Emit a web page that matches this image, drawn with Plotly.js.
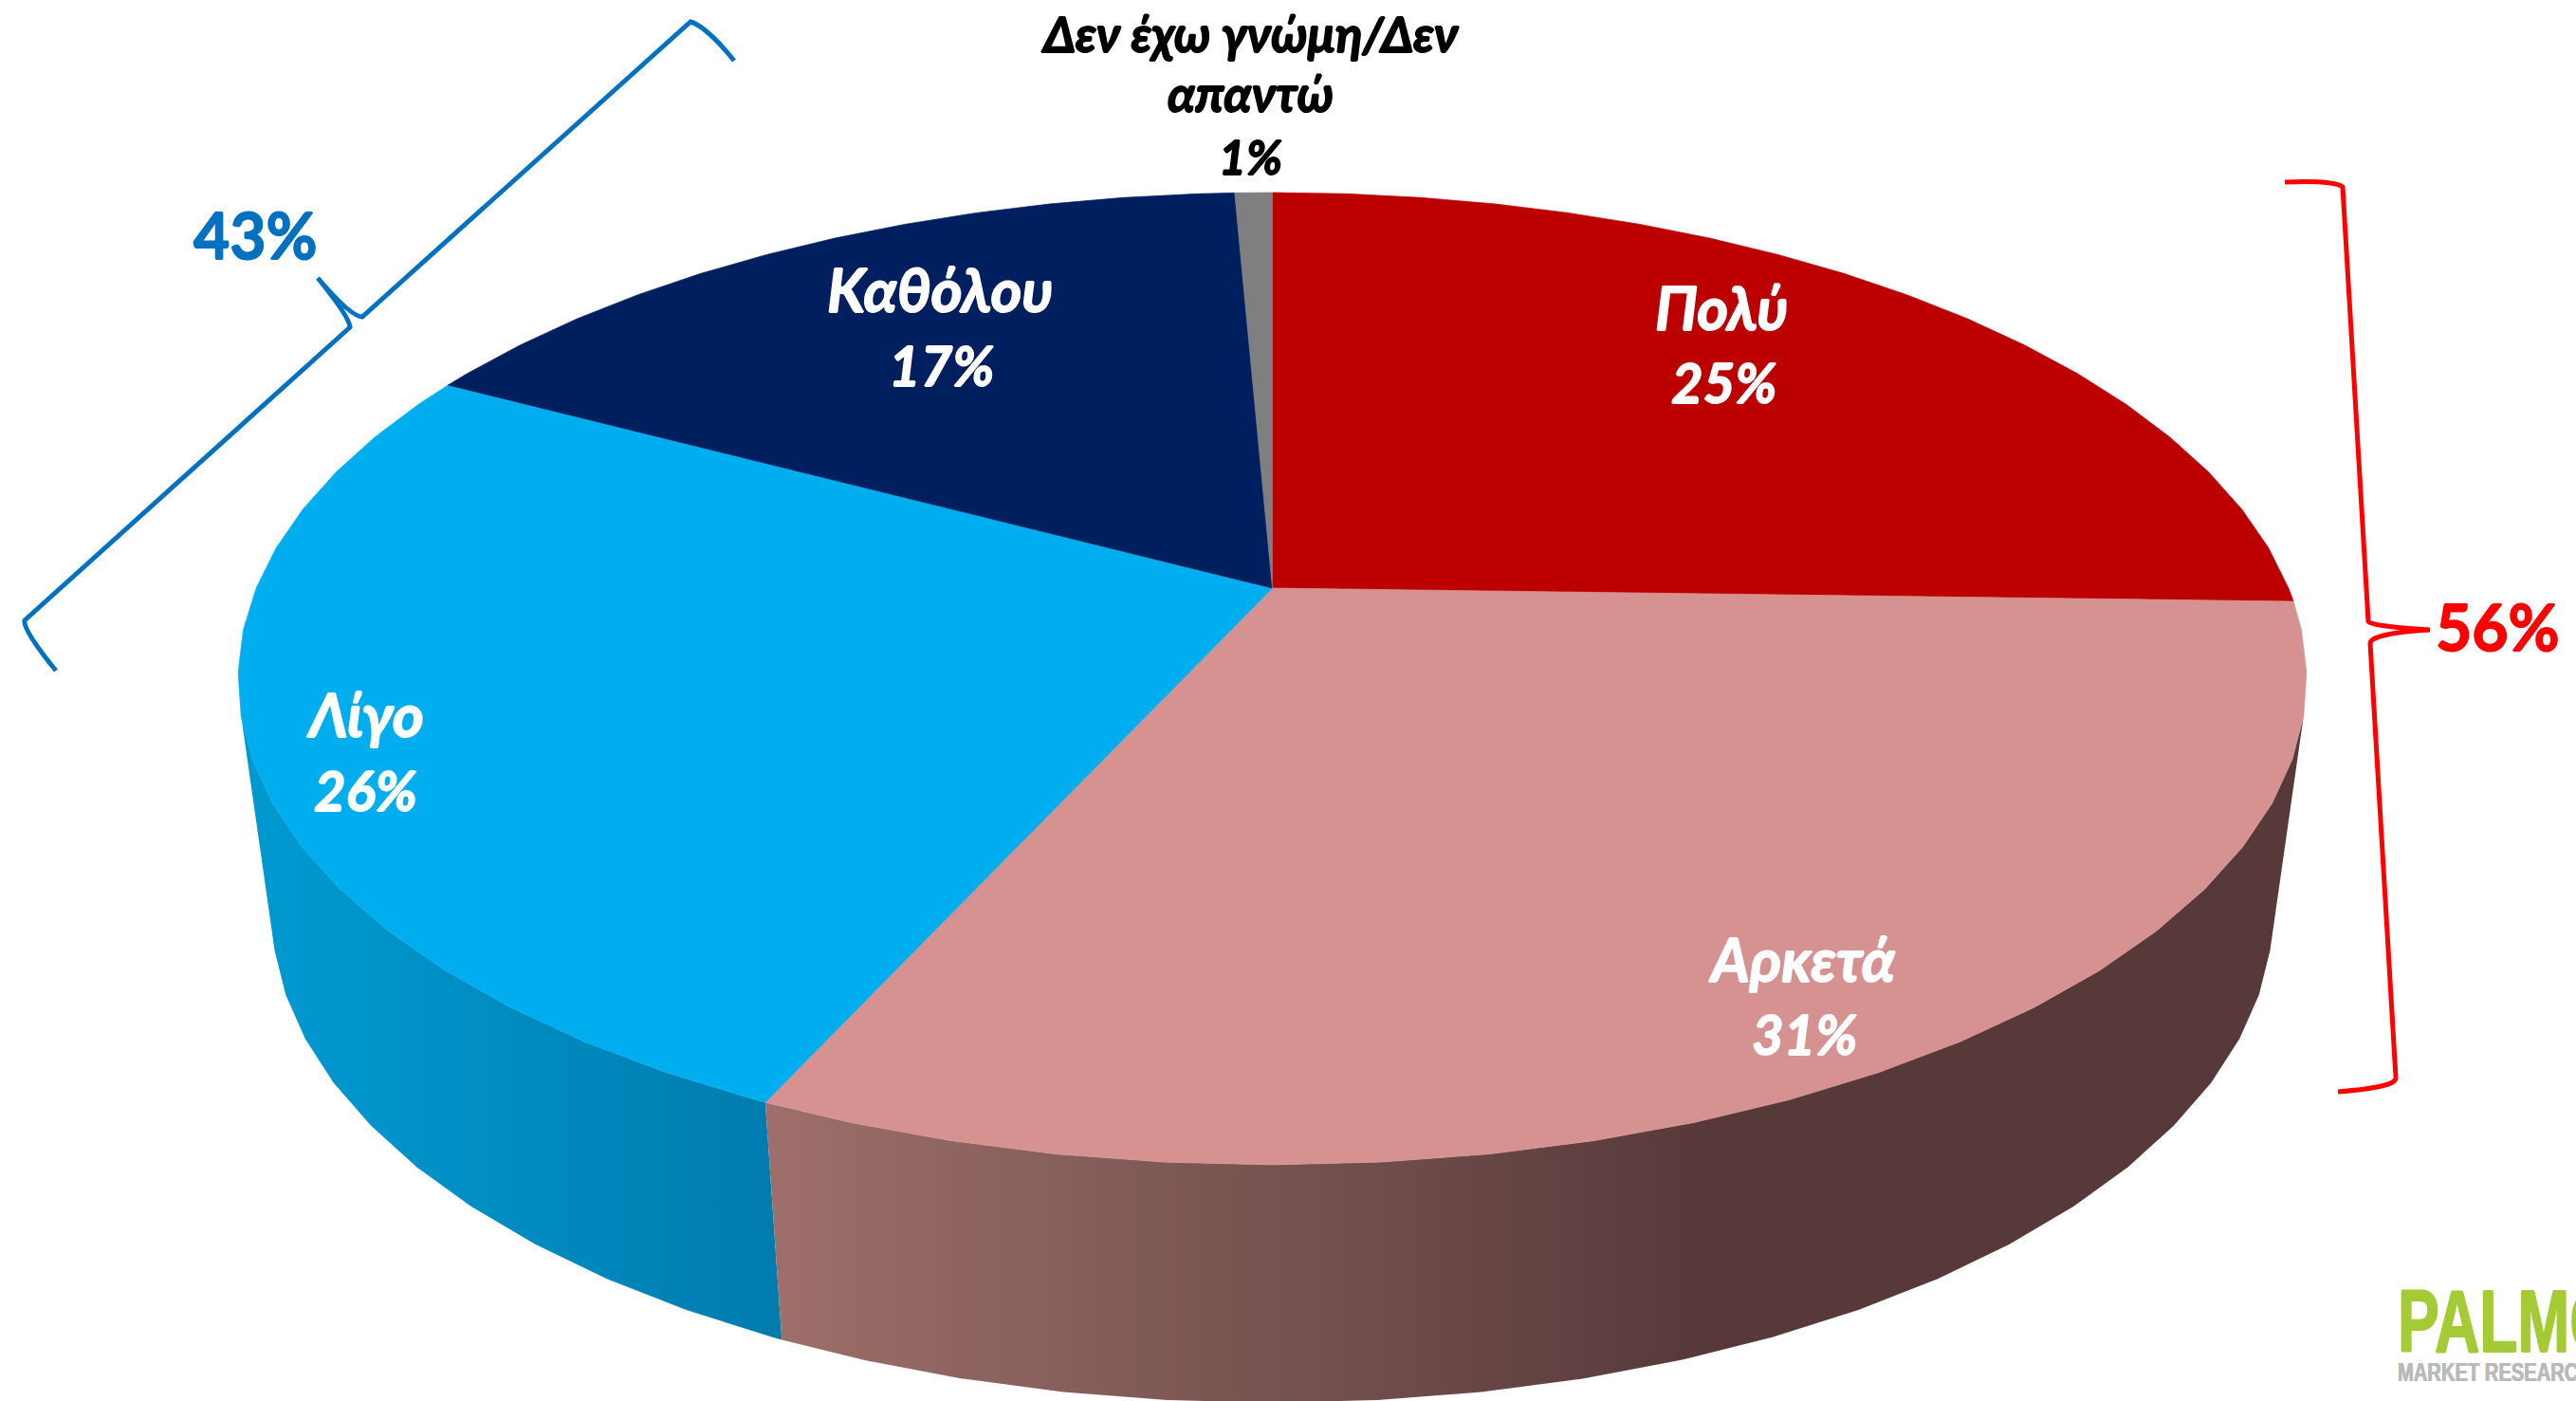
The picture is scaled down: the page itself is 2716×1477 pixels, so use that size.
<!DOCTYPE html>
<html>
<head>
<meta charset="utf-8">
<script src="https://cdn.plot.ly/plotly-3.0.1.min.js"></script>
<style>html,body{margin:0;padding:0;background:#fff;overflow:hidden}#chart{width:2716px;height:1477px}</style>
</head>
<body>
<div id="chart"></div>
<script>
// --- data ---
const categories = ['Πολύ', 'Αρκετά', 'Λίγο', 'Καθόλου', 'Δεν έχω γνώμη/Δεν απαντώ'];
const shares = [25.45, 31.35, 26.0, 16.5, 0.7];
const shownPercent = ['25%', '31%', '26%', '17%', '1%'];
const groupLabels = ['56%', '43%'];

// --- styles and positions ---
const topColors = ['#bc0000', '#d59291', '#00aeef', '#001f5f', '#7f7f7f'];
const FONT = 'Lato, "Noto Sans", sans-serif';
const LOGO_FONT = '"Liberation Sans", sans-serif';
const W = 2716, H = 1477;
const top3d = {cx: 1341.5, cy: 620, a: 1071.4, b: 494.7};
const bottom3d = {cx: 1341.5, cy: 866.8, a: 1036.5, b: 498};
const K = 0.1863, FACET = 5;

function project(p, deg) {
  const t = deg * Math.PI / 180, X = Math.sin(t), Y = Math.cos(t), w = 1 + K * Y;
  return [p.cx + p.a * X / w, p.cy - p.b * Y / w];
}
function arcAngles(d0, d1) {
  const out = [d0];
  for (let d = Math.ceil(d0 / FACET + 1e-6) * FACET; d < d1 - 1e-6; d += FACET) out.push(d);
  out.push(d1);
  return out;
}
let run = 0;
const edges = shares.map(v => { const from = run; run += v; return [from * 3.6, run * 3.6]; });

const traces = [];
function wall(d0, d1, name, stops, start, stop) {
  const A = arcAngles(d0, d1);
  const t = A.map(d => project(top3d, d));
  const b = A.slice().reverse().map(d => project(bottom3d, d));
  const pts = t.concat(b); pts.push(t[0]);
  traces.push({type: 'scatter', mode: 'lines', name, hoverinfo: 'skip',
    x: pts.map(p => p[0]), y: pts.map(p => p[1]), line: {width: 0},
    fill: 'toself',
    fillgradient: {type: 'horizontal', start, stop, colorscale: stops}});
}
const WALL_LEFT = 255, WALL_RIGHT = 105;
wall(edges[1][1], WALL_LEFT, categories[2] + ' side',
  [[0, '#0099cf'], [0.5, '#008bc0'], [1, '#007bae']], 286, 822);
wall(WALL_RIGHT, edges[1][1], categories[1] + ' side',
  [[0, '#9e6e6a'], [0.5, '#785551'], [1, '#57393a']], 815, 1800);

categories.forEach((c, i) => {
  const pts = arcAngles(edges[i][0], edges[i][1]).map(d => project(top3d, d));
  const apex = [top3d.cx, top3d.cy];
  const all = [apex].concat(pts, [apex]);
  traces.push({type: 'scatter', mode: 'lines', name: c, hoverinfo: 'skip',
    x: all.map(p => p[0]), y: all.map(p => p[1]),
    line: {width: 0.7, color: topColors[i]}, fill: 'toself', fillcolor: topColors[i]});
});

const heavy = (c, r) => `${r}px 0 0 ${c}, -${r}px 0 0 ${c}, 0 ${r}px 0 ${c}, 0 -${r}px 0 ${c}`;
function note(text, x, y, size, color, opts) {
  const o = opts || {};
  return {text, x, y, xref: 'x', yref: 'y', showarrow: false,
    xanchor: o.anchor || 'center', yanchor: 'middle',
    font: {family: o.family || FONT, size, color, weight: 700,
      style: o.upright ? 'normal' : 'italic', shadow: heavy(color, o.r || 0.8)}};
}
const NAME_SIZE = 63, PCT_SIZE = 58, SMALL_SIZE = 52, SMALL_PCT = 50, GROUP_SIZE = 66;
const annotations = [
  note(categories[0], 1815, 323, NAME_SIZE, '#fff'), note(shownPercent[0], 1817, 402, PCT_SIZE, '#fff'),
  note(categories[1], 1900, 1010, NAME_SIZE, '#fff'), note(shownPercent[1], 1902, 1089, PCT_SIZE, '#fff'),
  note(categories[2], 385, 752, NAME_SIZE, '#fff'), note(shownPercent[2], 385, 832, PCT_SIZE, '#fff'),
  note(categories[3], 991, 304, NAME_SIZE, '#fff'), note(shownPercent[3], 992, 384, PCT_SIZE, '#fff'),
  note('Δεν έχω γνώμη/Δεν', 1318, 35, SMALL_SIZE, '#000'),
  note('απαντώ', 1318, 98, SMALL_SIZE, '#000'),
  note(shownPercent[4], 1318, 165, SMALL_PCT, '#000'),
  note(groupLabels[0], 2633, 660, GROUP_SIZE, '#ff0000', {upright: true}),
  note(groupLabels[1], 269, 247, GROUP_SIZE, '#0070c0', {upright: true}),
  note('PALMOS', 2526, 1393, 92, '#a4cb35', {anchor: 'left', family: LOGO_FONT, upright: true, r: 1}),
  note('MARKET RESEARCH', 2526, 1447, 27, '#b9bbba', {anchor: 'left', family: LOGO_FONT, upright: true, r: 0.3})
];

const bracket = (path, color, width) => ({type: 'path', xref: 'x', yref: 'y', path,
  line: {color, width}, fillcolor: 'rgba(0,0,0,0)'});
const shapes = [
  bracket('M2409,192 Q2460,190 2470,197 L2497,655 Q2498,660 2562,664 Q2500,668 2499,678 L2526,1136 Q2528,1146 2465,1151', '#ff0000', 5),
  bracket('M774,64 Q745,28 728,23 L382,334 Q370,334 335,293 Q369,335 369,345 L26,654 Q24,664 59,707', '#0070c0', 5)
];

const layout = {
  width: W, height: H, margin: {l: 0, r: 0, t: 0, b: 0},
  paper_bgcolor: '#fff', plot_bgcolor: '#fff', showlegend: false,
  xaxis: {range: [0, W], visible: false, fixedrange: true},
  yaxis: {range: [H, 0], visible: false, fixedrange: true},
  annotations, shapes
};
const LOGO_WIDTHS = {'PALMOS': 276, 'MARKET RESEARCH': 205};
Plotly.newPlot('chart', traces, layout, {displayModeBar: false, staticPlot: true}).then(() => {
  // The logo lettering is condensed: squeeze its text to the logo's widths, keeping its left edge.
  document.querySelectorAll('.annotation-text').forEach(t => {
    const w = LOGO_WIDTHS[t.textContent];
    if (!w) return;
    const left = t.getBBox().x;
    t.setAttribute('textLength', w);
    t.setAttribute('lengthAdjust', 'spacingAndGlyphs');
    const shift = left - t.getBBox().x;
    t.setAttribute('x', parseFloat(t.getAttribute('x') || 0) + shift);
  });
});
</script>
</body>
</html>
